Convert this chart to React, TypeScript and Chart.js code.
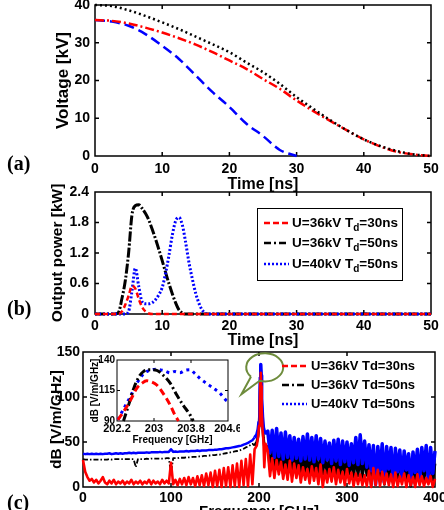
import React, { useEffect, useRef } from "react";
import { Chart, registerables } from "chart.js";

Chart.register(...registerables);

const SANS = '"Liberation Sans", Arial, Helvetica, sans-serif';
const SERIF = '"Liberation Serif", "Times New Roman", serif';

// ---------------- Panel (a): voltage vs time ----------------
const A_TIME = [0, 2.5, 5, 7.5, 10, 12.5, 15, 17.5, 20, 22.5, 25, 27.5, 30, 32.5, 35, 37.5, 40, 42.5, 45, 47.5, 50];
const A_U40_TD50 = [40, 39.7, 38.6, 37.1, 35.4, 33.6, 31.6, 29.6, 27.5, 24.8, 22.2, 19.1, 15.6, 12.5, 9.5, 6.8, 4.4, 2.6, 1.3, 0.4, 0];
const A_U36_TD50 = [36, 35.8, 35.1, 34, 32.7, 31.2, 29.5, 27.5, 25.3, 23.1, 20.4, 17.8, 14.7, 11.9, 9.3, 6.8, 4.4, 2.5, 1.1, 0.4, 0];
const A_U36_TD30 = [36, 35.6, 34.5, 32.3, 29.2, 25.7, 21.3, 16.9, 13, 8.6, 5.3, 1.6, 0, null, null, null, null, null, null, null, null];
const A_X_TICKS = [0, 10, 20, 30, 40, 50];
const A_Y_TICKS = [0, 10, 20, 30, 40];

// ---------------- Panel (b): output power vs time ----------------
const B_TIME = [0, 3, 3.5, 4, 4.5, 5, 5.5, 6, 6.5, 7, 7.5, 8, 8.5, 9, 9.5, 10, 10.5, 11, 11.5, 12, 12.5, 13, 13.5, 14, 14.5, 15, 15.5, 16, 16.5, 17, 20, 30, 40, 50];
const B_U36_TD30 = [0, 0, 0, 0.05, 0.18, 0.36, 0.55, 0.5, 0.3, 0.14, 0.05, 0.01, 0, 0, 0, 0, 0, 0, 0, 0, 0, 0, 0, 0, 0, 0, 0, 0, 0, 0, 0, 0, 0, 0];
const B_U36_TD50 = [0, 0, 0.03, 0.3, 0.65, 1.2, 1.95, 2.13, 2.15, 2.08, 1.98, 1.85, 1.67, 1.48, 1.27, 1.05, 0.82, 0.6, 0.4, 0.22, 0.08, 0.02, 0, 0, 0, 0, 0, 0, 0, 0, 0, 0, 0, 0];
const B_U40_TD50 = [0, 0, 0, 0, 0, 0.05, 0.45, 0.9, 0.55, 0.24, 0.2, 0.2, 0.22, 0.28, 0.38, 0.52, 0.8, 1.15, 1.55, 1.83, 1.9, 1.75, 1.4, 1.0, 0.68, 0.4, 0.2, 0.07, 0.01, 0, 0, 0, 0, 0];
const B_X_TICKS = [0, 10, 20, 30, 40, 50];
const B_Y_TICKS = [0, 0.6, 1.2, 1.8, 2.4];

// ---------------- Panel (c): spectrum ----------------
const C_FREQ_LOW = [
  0, 2.5, 5, 7.5, 10, 12.5, 15, 17.5,
  20, 22.5, 25, 27.5, 30, 32.5, 35, 37.5,
  40, 42.5, 45, 47.5, 50, 52.5, 55, 57.5,
  60, 62.5, 65, 67.5, 70, 72.5, 75, 77.5,
  80, 82.5, 85, 87.5, 90, 92.5, 95, 97.5,
  100, 102.5, 105, 107.5, 110, 112.5, 115, 117.5,
  120, 122.5, 125, 127.5, 130, 132.5, 135, 137.5,
  140, 142.5, 145, 147.5, 150, 152.5, 155, 157.5,
  160, 162.5, 165, 167.5, 170, 172.5, 175, 177.5,
  180, 182.5, 185, 187.5, 190, 192.5, 195,
];
const C_FREQ_PEAK = [197.5, 199, 200, 201, 201.5, 202, 202.5, 203, 204, 205, 206, 207.5];
const C_FREQ_HIGH = [
  210, 212.5, 215, 217.5, 220, 222.5, 225, 227.5,
  230, 232.5, 235, 237.5, 240, 242.5, 245, 247.5,
  250, 252.5, 255, 257.5, 260, 262.5, 265, 267.5,
  270, 272.5, 275, 277.5, 280, 282.5, 285, 287.5,
  290, 292.5, 295, 297.5, 300, 302.5, 305, 307.5,
  310, 312.5, 315, 317.5, 320, 322.5, 325, 327.5,
  330, 332.5, 335, 337.5, 340, 342.5, 345, 347.5,
  350, 352.5, 355, 357.5, 360, 362.5, 365, 367.5,
  370, 372.5, 375, 377.5, 380, 382.5, 385, 387.5,
  390, 392.5, 395, 397.5, 400,
];

const C_RED_LOW = [
  30, 17, 11, 7, 9, 5, 8, 4,
  7, 11, 5, 3, 7, 4, 8, 3,
  6, 4, 7, 3, 6, 4, 8, 3,
  6, 4, 7, 3, 6, 4, 8, 3,
  7, 4, 6, 3, 8, 4, 7, 4,
  27, 3, 8, 2, 9, 3, 10, 2,
  11, 3, 10, 1, 12, 2, 13, 1,
  15, 2, 16, 0, 18, 1, 19, 0,
  21, 1, 22, 0, 24, 1, 26, 0,
  29, 2, 31, 1, 36, 3, 42,
];
const C_RED_PEAK = [46, 56, 68, 92, 118, 127, 112, 88, 64, 52, 22, 48];
const C_RED_HIGH = [
  40, 12, 32, 10, 30, 14, 28, 9,
  25, 8, 29, 6, 26, 10, 24, 5,
  22, 8, 20, 4, 23, 7, 21, 3,
  25, 0, 18, 5, 20, 6, 22, 3,
  19, 5, 17, 2, 20, 4, 16, 1,
  15, 3, 14, 2, 13, 1, 18, 0,
  21, 2, 19, 1, 17, 3, 15, 2,
  14, 0, 16, 1, 12, 3, 15, 0,
  13, 2, 11, 0, 14, 2, 12, 1,
  10, 3, 12, 0, 9,
];

const C_BLACK_LOW = [
  31, 30.5, 30.5, 30.5, 30.5, 30.5, 30.5, 30.5,
  30.5, 30.5, 30.5, 30.5, 31, 30.5, 31, 31,
  31, 31, 31, 31, 31, 31, 31, 31,
  22, 31, 31, 31, 31, 31.5, 31, 31.5,
  31.5, 31.5, 31.5, 31.5, 31.5, 31.5, 32, 32,
  15.5, 32, 32, 32, 32.5, 32.5, 32.5, 33,
  33, 33, 33.5, 33.5, 33.5, 34, 34, 34.5,
  34.5, 35, 35, 35.5, 35.5, 36, 36, 36.5,
  37, 37.5, 38, 38.5, 39, 39.5, 40, 40.5,
  41.5, 42.5, 44, 45, 46.5, 48, 46,
];
const C_BLACK_PEAK = [50, 57, 68, 90, 115, 130, 116, 92, 70, 55, 46, 42];
const C_BLACK_HIGH = [
  45, 20, 42, 16, 44, 18, 40, 15,
  41, 17, 38, 14, 40, 16, 37, 12,
  39, 15, 38, 13, 36, 16, 38, 11,
  35, 14, 37, 12, 34, 15, 36, 10,
  35, 13, 33, 11, 35, 14, 32, 9,
  36, 12, 34, 10, 33, 13, 31, 2,
  30, 8, 32, 11, 30, 3, 31, 10,
  29, 12, 30, 9, 28, 11, 29, 8,
  27, 1, 28, 9, 27, 10, 29, 7,
  28, 9, 30, 6, 26,
];

const C_BLUE_LOW = [
  37, 36.5, 37, 36.5, 37, 36.5, 37, 36.5,
  37, 36.5, 37, 37, 37.5, 36.5, 37, 37.5,
  37, 37.5, 37, 37.5, 37.5, 38, 37.5, 38,
  37.5, 38, 38, 38, 38, 38.5, 38, 38.5,
  38.5, 38.5, 38.5, 39, 38.5, 39, 39, 39,
  42, 39, 39.5, 39, 39.5, 39.5, 39.5, 40,
  39.5, 40, 40, 40, 40.5, 40, 40.5, 40.5,
  40.5, 41, 41, 41, 41.5, 41.5, 42, 42,
  42.5, 43, 43, 43.5, 44, 44.5, 45, 45.5,
  46, 47, 48, 49, 50.5, 52, 55,
];
const C_BLUE_PEAK = [58, 64, 72, 95, 122, 136, 124, 98, 78, 66, 62, 60];
const C_BLUE_HIGH = [
  62, 38, 63, 33, 65, 34, 60, 31,
  61, 33, 57, 30, 55, 32, 53, 29,
  56, 31, 59, 30, 55, 28, 57, 31,
  54, 27, 51, 30, 49, 26, 52, 29,
  53, 25, 51, 28, 50, 24, 48, 27,
  55, 25, 58, 26, 51, 22, 47, 18,
  46, 3, 45, 18, 48, 5, 45, 20,
  44, 6, 43, 17, 41, 9, 40, 19,
  37, 5, 39, 16, 42, 7, 44, 18,
  46, 6, 44, 15, 40,
];
const C_X_TICKS = [0, 100, 200, 300, 400];
const C_Y_TICKS = [0, 50, 100, 150];
const C_LEGEND = ["U=36kV Td=30ns", "U=36kV Td=50ns", "U=40kV Td=50ns"];
const C_NOISY_FROM = 196;
const BUBBLE_F = 206.5;
const BUBBLE_DB = 133;
const BUBBLE_TIP_F = 180;
const BUBBLE_TIP_DB = 103;

// ---------------- Inset ----------------
const I_BLUE_F = [202.22, 202.33, 202.41, 202.49, 202.56, 202.63, 202.7, 202.77, 202.84, 202.95, 203.06, 203.13, 203.24, 203.35, 203.45, 203.56, 203.67, 203.78, 203.88, 203.99, 204.13, 204.28, 204.42, 204.56, 204.6];
const I_BLUE_V = [91, 99, 104.5, 110, 115.5, 121, 125, 128.5, 130.5, 132, 132.5, 132, 131, 129.5, 130.5, 129.5, 131.5, 132, 129, 125, 121, 117, 113, 107, 106];
const I_BLACK_F = [202.34, 202.45, 202.56, 202.67, 202.77, 202.92, 203.06, 203.2, 203.35, 203.49, 203.63, 203.78, 203.85];
const I_BLACK_V = [90, 103, 116.5, 126, 130.5, 132, 131.5, 127.5, 121, 111.5, 103, 95, 90];
const I_RED_F = [202.22, 202.34, 202.49, 202.63, 202.74, 202.84, 202.95, 203.06, 203.2, 203.35, 203.45, 203.53];
const I_RED_V = [91, 97.5, 107, 117, 121, 123, 122, 119.5, 112.5, 103, 95, 90];
const I_X_TICKS = [202.2, 203, 203.8, 204.6];
const I_Y_TICKS = [90, 115, 140];

// ---------------- helpers ----------------
const pts = (xs: number[], ys: (number | null)[]) => xs.map((x, i) => ({ x, y: ys[i] }));

function ds(xs: number[], ys: (number | null)[], color: string, width: number, dash: number[], extra: any = {}) {
  return {
    data: pts(xs, ys),
    borderColor: color,
    backgroundColor: color,
    borderWidth: width,
    borderDash: dash,
    pointRadius: 0,
    pointHoverRadius: 0,
    fill: false,
    tension: 0,
    spanGaps: false,
    clip: 6,
    borderJoinStyle: "round",
    ...extra,
  };
}

// segment styles for the spectrum: thicker/solid strokes inside the noisy band
function noisySegment(lowWidth: number, highWidth: number, lowDash: number[]) {
  return {
    borderWidth: (c: any) => (c.p1.parsed.x > C_NOISY_FROM ? highWidth : lowWidth),
    borderDash: (c: any) => (c.p1.parsed.x > C_NOISY_FROM ? [] : lowDash),
  };
}

const xFit = (h: number) => (s: any) => {
  s.height = h;
  s.paddingLeft = 0; s.paddingRight = 0; s.paddingTop = 0; s.paddingBottom = 0;
};
const yFit = (w: number) => (s: any) => {
  s.width = w;
  s.paddingLeft = 0; s.paddingRight = 0; s.paddingTop = 0; s.paddingBottom = 0;
};

function makeAxis(min: number, max: number, tickValues: number[], tickSize: number, tickPad: number,
  title: string, titleSize: number, fit: (s: any) => void) {
  return {
    type: "linear",
    min, max,
    afterBuildTicks: (s: any) => { s.ticks = tickValues.map((v) => ({ value: v })); },
    ticks: {
      autoSkip: false, maxRotation: 0, minRotation: 0, padding: tickPad, color: "#000",
      font: { family: SANS, size: tickSize, weight: "bold" },
      callback: (v: any) => String(v),
    },
    grid: { display: false, drawTicks: false },
    border: { display: false },
    title: { display: !!title, text: title, color: "#000", padding: 0, font: { family: SANS, size: titleSize, weight: "bold" } },
    afterFit: fit,
  };
}

function baseOptions(padding: any, x: any, y: any) {
  return {
    responsive: false,
    maintainAspectRatio: false,
    animation: false,
    events: [],
    layout: { padding },
    plugins: { legend: { display: false }, tooltip: { enabled: false }, title: { display: false } },
    scales: { x, y },
  };
}

function framePlugin(tickLen: number, lw: number, whiteBg = false) {
  return {
    id: "frame",
    beforeDraw(chart: any) {
      if (!whiteBg) return;
      const a = chart.chartArea;
      const ctx = chart.ctx;
      ctx.save();
      ctx.fillStyle = "#fff";
      ctx.fillRect(a.left, a.top, a.right - a.left, a.bottom - a.top);
      ctx.restore();
    },
    beforeDatasetsDraw(chart: any) {
      const { ctx, chartArea: a, scales } = chart;
      ctx.save();
      ctx.strokeStyle = "#000";
      ctx.lineWidth = lw;
      ctx.setLineDash([]);
      ctx.strokeRect(a.left, a.top, a.right - a.left, a.bottom - a.top);
      ctx.beginPath();
      scales.x.ticks.forEach((t: any) => {
        const px = scales.x.getPixelForValue(t.value);
        if (px <= a.left + 1 || px >= a.right - 1) return;
        ctx.moveTo(px, a.bottom); ctx.lineTo(px, a.bottom - tickLen);
        ctx.moveTo(px, a.top); ctx.lineTo(px, a.top + tickLen);
      });
      scales.y.ticks.forEach((t: any) => {
        const py = scales.y.getPixelForValue(t.value);
        if (py <= a.top + 1 || py >= a.bottom - 1) return;
        ctx.moveTo(a.left, py); ctx.lineTo(a.left + tickLen, py);
        ctx.moveTo(a.right, py); ctx.lineTo(a.right - tickLen, py);
      });
      ctx.stroke();
      ctx.restore();
    },
  };
}

function sample(ctx: any, x1: number, x2: number, y: number, color: string, width: number, dash: number[]) {
  ctx.save();
  ctx.strokeStyle = color;
  ctx.lineWidth = width;
  ctx.setLineDash(dash);
  ctx.beginPath();
  ctx.moveTo(x1, y);
  ctx.lineTo(x2, y);
  ctx.stroke();
  ctx.restore();
}

const LEGEND_STYLES = [
  { color: "#ff0000", dash: [6, 3] },
  { color: "#000000", dash: [7, 3, 2, 3] },
  { color: "#0000ff", dash: [2, 2] },
];

const legendBPlugin = {
  id: "legendB",
  afterDatasetsDraw(chart: any) {
    const { ctx, chartArea: a } = chart;
    const left = a.left + 162, top = a.top + 16, w = 145, h = 72;
    ctx.save();
    ctx.fillStyle = "#fff";
    ctx.fillRect(left, top, w, h);
    ctx.strokeStyle = "#000";
    ctx.lineWidth = 1;
    ctx.strokeRect(left + 0.5, top + 0.5, w, h);
    const rows = [
      ["U=36kV T", "d", "=30ns"],
      ["U=36kV T", "d", "=50ns"],
      ["U=40kV T", "d", "=50ns"],
    ];
    const rowY = [15, 35, 56];
    rows.forEach((r, i) => {
      const y = top + rowY[i];
      sample(ctx, left + 7, left + 32, y, LEGEND_STYLES[i].color, 2.5, LEGEND_STYLES[i].dash);
      ctx.fillStyle = "#000";
      ctx.textBaseline = "middle";
      ctx.textAlign = "left";
      let x = left + 35;
      ctx.font = `bold 13.5px ${SANS}`;
      ctx.fillText(r[0], x, y);
      x += ctx.measureText(r[0]).width;
      ctx.font = `bold 10px ${SANS}`;
      ctx.fillText(r[1], x, y + 5);
      x += ctx.measureText(r[1]).width;
      ctx.font = `bold 13.5px ${SANS}`;
      ctx.fillText(r[2], x, y);
    });
    ctx.restore();
  },
};

const legendCPlugin = {
  id: "legendC",
  afterDatasetsDraw(chart: any) {
    const { ctx, chartArea: a, scales } = chart;
    ctx.save();
    // speech bubble around the peak
    const cx = scales.x.getPixelForValue(BUBBLE_F);
    const cy = scales.y.getPixelForValue(BUBBLE_DB);
    const tx = scales.x.getPixelForValue(BUBBLE_TIP_F);
    const ty = scales.y.getPixelForValue(BUBBLE_TIP_DB);
    const rx = 18.5, ry = 14;
    const t1 = (138 * Math.PI) / 180;
    const t2 = (106 * Math.PI) / 180;
    ctx.strokeStyle = "#6e8c3c";
    ctx.lineWidth = 2;
    ctx.setLineDash([]);
    ctx.beginPath();
    ctx.ellipse(cx, cy, rx, ry, 0, t1, t2 + 2 * Math.PI);
    ctx.lineTo(tx, ty);
    ctx.lineTo(cx + rx * Math.cos(t1), cy + ry * Math.sin(t1));
    ctx.stroke();
    // legend
    const x0 = a.left + 199;
    const rowY = [a.top + 14, a.top + 33, a.top + 52];
    C_LEGEND.forEach((label, i) => {
      sample(ctx, x0, x0 + 25, rowY[i], LEGEND_STYLES[i].color, 2.5, LEGEND_STYLES[i].dash);
      ctx.fillStyle = "#000";
      ctx.font = `bold 13px ${SANS}`;
      ctx.textBaseline = "middle";
      ctx.textAlign = "left";
      ctx.fillText(label, x0 + 29, rowY[i]);
    });
    ctx.restore();
  },
};

function configA(): any {
  return {
    type: "line",
    data: {
      datasets: [
        ds(A_TIME, A_U40_TD50, "#000000", 2.5, [2, 3], { cubicInterpolationMode: "monotone" }),
        ds(A_TIME, A_U36_TD50, "#ff0000", 2.5, [9, 3, 2, 3], { cubicInterpolationMode: "monotone" }),
        ds(A_TIME, A_U36_TD30, "#0000ff", 2.5, [10, 5], { cubicInterpolationMode: "monotone" }),
      ],
    },
    options: baseOptions(
      { left: 53, top: 5, right: 13, bottom: 0 },
      makeAxis(0, 50, A_X_TICKS, 14, 5, "Time [ns]", 16, xFit(38)),
      makeAxis(0, 40, A_Y_TICKS, 14, 5, "Voltage [kV]", 17, yFit(42))
    ),
    plugins: [framePlugin(4, 1.5)],
  };
}

function configB(): any {
  return {
    type: "line",
    data: {
      datasets: [
        ds(B_TIME, B_U36_TD30, "#ff0000", 2.5, [5, 3], { cubicInterpolationMode: "monotone", order: 1 }),
        ds(B_TIME, B_U36_TD50, "#000000", 3, [10, 2, 2, 2], { cubicInterpolationMode: "monotone", order: 3 }),
        ds(B_TIME, B_U40_TD50, "#0000ff", 3, [2, 2], { cubicInterpolationMode: "monotone", order: 2 }),
      ],
    },
    options: baseOptions(
      { left: 48, top: 12, right: 13, bottom: 0 },
      makeAxis(0, 50, B_X_TICKS, 14, 4, "Time [ns]", 16, xFit(36)),
      makeAxis(0, 2.4, B_Y_TICKS, 14, 6, "Output power [kW]", 15.5, yFit(47))
    ),
    plugins: [framePlugin(4, 1.5), legendBPlugin],
  };
}

function configC(): any {
  const F = [...C_FREQ_LOW, ...C_FREQ_PEAK, ...C_FREQ_HIGH];
  const R = [...C_RED_LOW, ...C_RED_PEAK, ...C_RED_HIGH];
  const K = [...C_BLACK_LOW, ...C_BLACK_PEAK, ...C_BLACK_HIGH];
  const B = [...C_BLUE_LOW, ...C_BLUE_PEAK, ...C_BLUE_HIGH];
  return {
    type: "line",
    data: {
      datasets: [
        ds(F, R, "#ff0000", 2.6, [], { order: 1 }),
        ds(F, K, "#000000", 1.8, [5, 2, 1.5, 2], { order: 3, segment: noisySegment(1.8, 2.8, [5, 2, 1.5, 2]) }),
        ds(F, B, "#0000ff", 2.5, [], { order: 2, segment: noisySegment(2.5, 3.5, []) }),
      ],
    },
    options: baseOptions(
      { left: 47, top: 10, right: 9, bottom: 0 },
      makeAxis(0, 400, C_X_TICKS, 14, 3, "Frequency [GHz]", 15, xFit(34)),
      makeAxis(0, 150, C_Y_TICKS, 14, 3, "dB [V/m/GHz]", 15.5, yFit(36))
    ),
    plugins: [framePlugin(4, 1.5), legendCPlugin],
  };
}

function configInset(): any {
  return {
    type: "line",
    data: {
      datasets: [
        ds(I_RED_F, I_RED_V, "#ff0000", 3, [7, 4], { cubicInterpolationMode: "monotone", order: 1 }),
        ds(I_BLACK_F, I_BLACK_V, "#000000", 3, [8, 3, 2, 3], { cubicInterpolationMode: "monotone", order: 2 }),
        ds(I_BLUE_F, I_BLUE_V, "#0000ff", 3, [3, 4], { cubicInterpolationMode: "monotone", order: 3 }),
      ],
    },
    options: baseOptions(
      { left: 0, top: 6, right: 12, bottom: 0 },
      makeAxis(202.2, 204.6, I_X_TICKS, 11, 1, "Frequency [GHz]", 10, xFit(25)),
      makeAxis(90, 140, I_Y_TICKS, 10, 2, "dB [V/m/GHz]", 10, yFit(28))
    ),
    plugins: [framePlugin(3, 1, true)],
  };
}

const panelLabel = (top: number): React.CSSProperties => ({
  position: "absolute",
  left: 7,
  top,
  font: `bold 20px ${SERIF}`,
  lineHeight: "20px",
  color: "#000",
});

export default function App() {
  const aRef = useRef<HTMLCanvasElement>(null);
  const bRef = useRef<HTMLCanvasElement>(null);
  const cRef = useRef<HTMLCanvasElement>(null);
  const iRef = useRef<HTMLCanvasElement>(null);

  useEffect(() => {
    const charts = [
      new Chart(aRef.current as HTMLCanvasElement, configA()),
      new Chart(bRef.current as HTMLCanvasElement, configB()),
      new Chart(cRef.current as HTMLCanvasElement, configC()),
      new Chart(iRef.current as HTMLCanvasElement, configInset()),
    ];
    return () => charts.forEach((c) => c.destroy());
  }, []);

  return (
    <div style={{ position: "fixed", left: 0, top: 0, width: 444, height: 510, overflow: "hidden", background: "#fff" }}>
      <canvas ref={aRef} width={444} height={194} style={{ position: "absolute", left: 0, top: 0, width: 444, height: 194 }} />
      <canvas ref={bRef} width={444} height={170} style={{ position: "absolute", left: 0, top: 180, width: 444, height: 170 }} />
      <canvas ref={cRef} width={444} height={179} style={{ position: "absolute", left: 0, top: 342, width: 444, height: 179 }} />
      <canvas ref={iRef} width={151} height={92} style={{ position: "absolute", left: 89, top: 354, width: 151, height: 92 }} />
      <div style={panelLabel(153)}>(a)</div>
      <div style={panelLabel(298)}>(b)</div>
      <div style={panelLabel(492)}>(c)</div>
    </div>
  );
}
